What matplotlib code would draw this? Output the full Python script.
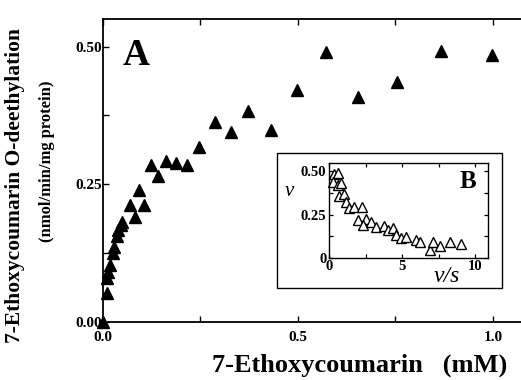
import numpy as np
import matplotlib.pyplot as plt
from matplotlib.patches import Rectangle

# Panel A: substrate concentration (mM) vs rate (nmol/min/mg protein)
conc = [0.0, 0.009, 0.009, 0.014, 0.018, 0.025, 0.028, 0.035, 0.039, 0.045,
        0.050, 0.069, 0.082, 0.093, 0.106, 0.122, 0.142, 0.162, 0.187, 0.216,
        0.247, 0.286, 0.327, 0.373, 0.432, 0.497, 0.572, 0.655, 0.753, 0.868,
        0.997]
rate = [0.0, 0.052, 0.079, 0.091, 0.103, 0.124, 0.136, 0.156, 0.167, 0.176,
        0.182, 0.212, 0.191, 0.239, 0.212, 0.285, 0.264, 0.292, 0.289, 0.285,
        0.318, 0.362, 0.345, 0.383, 0.349, 0.421, 0.490, 0.409, 0.436, 0.492,
        0.485]

# Panel B: Eadie-Hofstee, v vs v/s
vs = [0.34, 0.57, 0.23, 0.57, 0.80, 0.69, 1.03, 1.15, 1.38, 1.72, 2.25, 1.95,
      2.52, 2.29, 2.87, 3.21, 3.78, 4.00, 4.36, 4.59, 4.93, 5.28, 5.96, 6.19,
      6.93, 7.11, 7.57, 8.26, 9.06]
v = [0.487, 0.493, 0.439, 0.420, 0.430, 0.360, 0.370, 0.320, 0.285, 0.294,
     0.294, 0.217, 0.227, 0.189, 0.208, 0.175, 0.183, 0.160, 0.170, 0.131,
     0.112, 0.121, 0.102, 0.092, 0.044, 0.092, 0.068, 0.092, 0.077]

serif = ['Liberation Serif', 'DejaVu Serif']
plt.rcParams['font.family'] = serif
plt.rcParams['font.weight'] = 'bold'

fig = plt.figure(figsize=(5.21, 3.80), dpi=100)

ax = fig.add_axes([0.1977, 0.1534, 0.8023, 0.7966])
ax.plot(conc, rate, '^', color='black', markersize=9, clip_on=False)
ax.set_xlim(0, 1.072)
ax.set_ylim(0, 0.55)
ax.set_xticks([0, 0.25, 0.5, 0.75, 1.0])
ax.set_xticklabels(['0.0', '', '0.5', '', '1.0'])
ax.set_yticks([0, 0.125, 0.25, 0.375, 0.5])
ax.set_yticklabels(['0.00', '', '0.25', '', '0.50'])
ax.tick_params(direction='in', top=True, length=4, width=1, labelsize=11)
ax.tick_params(axis='x', pad=7)
ax.tick_params(axis='y', pad=1)
ax.spines['right'].set_visible(False)
for s in ['left', 'bottom', 'top']:
    ax.spines[s].set_linewidth(1.3)
ax.text(0.08, 0.88, 'A', transform=ax.transAxes, fontsize=27,
        fontweight='bold', ha='center', va='center')

fig.text(0.029, 0.513, '7-Ethoxycoumarin O-deethylation', rotation=90,
         fontsize=15.5, fontweight='bold', ha='center', va='center')
fig.text(0.090, 0.576, '(nmol/min/mg protein)', rotation=90,
         fontsize=12, fontweight='bold', ha='center', va='center')
fig.text(0.69, 0.04, '7-Ethoxycoumarin   (mM)', fontsize=19,
         fontweight='bold', ha='center', va='center')

# inset frame
fig.patches.append(Rectangle((0.532, 0.2413), 0.4307, 0.3553,
                             transform=fig.transFigure, facecolor='white',
                             edgecolor='black', linewidth=1.0, zorder=2))

ins = fig.add_axes([0.632, 0.3218, 0.305, 0.25], zorder=3)
ins.plot(vs, v, '^', markerfacecolor='white', markeredgecolor='black',
         markersize=7, markeredgewidth=1.0, linestyle='none', clip_on=False)
ins.set_xlim(0, 10.9)
ins.set_ylim(0, 0.55)
ins.set_xticks([0, 2.5, 5, 7.5, 10])
ins.set_xticklabels(['0', '', '5', '', '10'])
ins.set_yticks([0, 0.125, 0.25, 0.375, 0.5])
ins.set_yticklabels(['0', '', '0.25', '', '0.50'])
ins.tick_params(direction='in', top=True, right=True, length=3, width=0.9,
                labelsize=10.5, pad=2)
for s in ins.spines.values():
    s.set_linewidth(1.0)
ins.text(0.87, 0.8, 'B', transform=ins.transAxes, fontsize=18,
         fontweight='bold', ha='center', va='center')
ins.text(-0.25, 0.70, 'v', transform=ins.transAxes, fontsize=15,
         style='italic', fontweight='normal', ha='center', va='center')
ins.text(0.74, -0.2, 'v/s', transform=ins.transAxes, fontsize=17,
         style='italic', fontweight='normal', ha='center', va='center')

fig.savefig('out.png', dpi=100)
